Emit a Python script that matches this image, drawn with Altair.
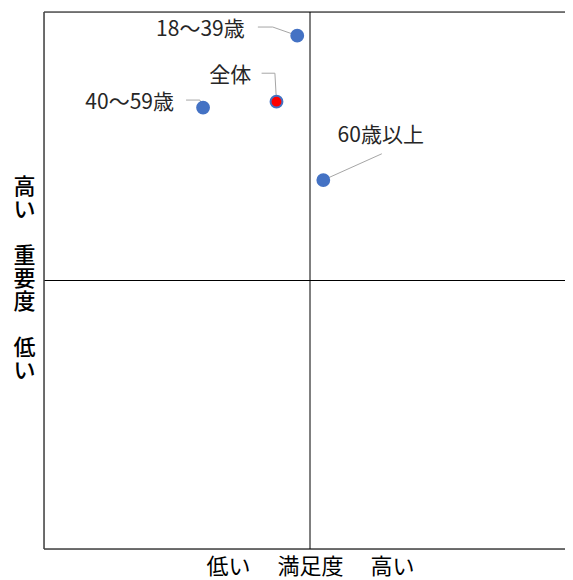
import altair as alt
import pandas as pd

# ---- data ----
groups = ["18～39歳", "全体", "40～59歳", "60歳以上"]
satisfaction = [47.6, 43.7, 29.9, 52.5]      # x (満足度)
importance = [95.6, 83.3, 82.2, 68.7]        # y (重要度)
fill_colors = ["#4472C4", "#FF0000", "#4472C4", "#4472C4"]

# data-label positions (in data units)
label_x = [29.4, 35.0, 16.1, 63.3]
label_y = [96.6, 88.1, 83.1, 76.9]

# leader-line vertices from label towards the point (data units)
leader_group = ["18～39歳", "18～39歳", "全体", "全体", "40～59歳", "40～59歳", "60歳以上"]
leader_x = [40.2, 43.0, 40.9, 43.4, 26.7, 29.3, 63.5]
leader_y = [97.2, 97.2, 88.6, 88.6, 83.6, 83.6, 73.6]

# quadrant / frame lines
h_lines = [100, 50, 0]
h_colors = ["#000000", "#000000", "#404040"]
h_widths = [1, 1, 1.5]
v_lines = [0, 50]
v_colors = ["#404040", "#000000"]
v_widths = [1.5, 1]

GAP = "\u200b"
x_title = "低い\u3000  満足度\u3000  高い"
y_title = ["高", "い", GAP, "重", "要", "度", GAP, "低", "い"]

X_MAX = 97.93
FONT = "Noto Sans CJK JP"

pts = pd.DataFrame({"group": groups, "x": satisfaction, "y": importance, "fill": fill_colors})
labels = pd.DataFrame({"group": groups, "x": label_x, "y": label_y})

rows = []
order = {}
for g, lx, ly in zip(leader_group, leader_x, leader_y):
    order[g] = order.get(g, 0) + 1
    rows.append({"group": g, "o": order[g], "x": lx, "y": ly})
for g, sx, sy in zip(groups, satisfaction, importance):
    rows.append({"group": g, "o": 99, "x": sx, "y": sy})
leaders = pd.DataFrame(rows)

hdf = pd.DataFrame({"y": h_lines, "c": h_colors, "w": h_widths})
vdf = pd.DataFrame({"x": v_lines, "c": v_colors, "w": v_widths})

xs = alt.Scale(domain=[0, X_MAX], nice=False, zero=False)
ys = alt.Scale(domain=[0, 100], nice=False, zero=False)

X = alt.X("x:Q", scale=xs, axis=alt.Axis(
    title=x_title, domain=False, ticks=False, labels=False, grid=False,
    titleFontSize=22, titleFontWeight="normal", titleColor="#000000", titleFont=FONT,
    titleX=266, titleY=17, titleAlign="center", titleBaseline="middle"))
Y = alt.Y("y:Q", scale=ys, axis=alt.Axis(
    title=y_title, domain=False, ticks=False, labels=False, grid=False,
    titleFontSize=22, titleFontWeight=500, titleColor="#000000", titleFont=FONT,
    titleAngle=0, titleX=-20, titleY=174, titleAlign="center", titleBaseline="middle",
    titleLineHeight=23))

hrules = alt.Chart(hdf).mark_rule().encode(
    y=Y, color=alt.Color("c:N", scale=None), strokeWidth=alt.StrokeWidth("w:Q", scale=None))
vrules = alt.Chart(vdf).mark_rule().encode(
    x=X, color=alt.Color("c:N", scale=None), strokeWidth=alt.StrokeWidth("w:Q", scale=None))

lines = alt.Chart(leaders).mark_line(color="#A6A6A6", strokeWidth=1).encode(
    x=X, y=Y, detail="group:N", order="o:Q")

points = alt.Chart(pts).mark_circle(size=140, opacity=1, stroke="#4472C4", strokeWidth=2).encode(
    x=X, y=Y, color=alt.Color("fill:N", scale=None))

texts = alt.Chart(labels).mark_text(
    font=FONT, fontSize=21, color="#262626", align="center", baseline="middle").encode(
    x=X, y=Y, text="group:N")

chart = alt.layer(hrules, vrules, lines, points, texts).properties(
    width=521, height=537,
    autosize=alt.AutoSizeParams(type="none"),
    padding={"left": 36, "top": 4, "right": 0, "bottom": 31},
).configure_view(stroke=None).configure(font=FONT)

chart.save("out.html", embed_options={"renderer": "svg", "actions": False})
